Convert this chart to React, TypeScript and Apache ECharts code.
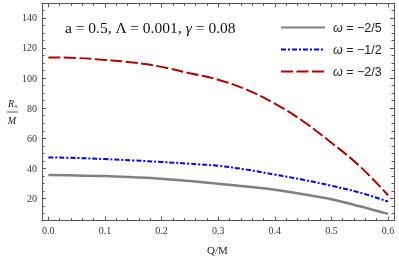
import React, { useEffect, useRef } from "react";
import * as echarts from "echarts";

const qValues = [0, 0.05, 0.1, 0.15, 0.2, 0.25, 0.3, 0.35, 0.4, 0.45, 0.5, 0.55, 0.6];
const grayValues = [35.6, 35.3, 34.9, 34.1, 33.1, 31.6, 29.8, 28.0, 25.8, 22.9, 19.6, 14.9, 9.8];
const blueValues = [47.3, 46.9, 46.2, 45.3, 44.3, 43.1, 41.7, 39.2, 35.9, 32.5, 28.5, 24.0, 18.0];
const redValues = [113.7, 113.3, 112.0, 110.3, 107.4, 103.2, 98.9, 92.3, 83.0, 71.3, 57.0, 41.5, 22.2];
const seriesNames = ["ω = −2/5", "ω = −1/2", "ω = −2/3"];

const xMajor = [0, 0.1, 0.2, 0.3, 0.4, 0.5, 0.6];
const xMinor = [0.02, 0.04, 0.06, 0.08, 0.12, 0.14, 0.16, 0.18, 0.22, 0.24, 0.26, 0.28, 0.32, 0.34, 0.36, 0.38, 0.42, 0.44, 0.46, 0.48, 0.52, 0.54, 0.56, 0.58];
const yMajor = [20, 40, 60, 80, 100, 120, 140];
const yMinor = [10, 15, 25, 30, 35, 45, 50, 55, 65, 70, 75, 85, 90, 95, 105, 110, 115, 125, 130, 135, 145];

const X_MIN = -0.0112;
const X_MAX = 0.6106;
const Y_MIN = 5.3;
const Y_MAX = 149.6;

const FRAME = "#555555";
const LABEL = "#333333";
const SERIF = "Liberation Serif, serif";
const SANS = "Liberation Sans, Arial, sans-serif";

export default function App() {
  const ref = useRef<HTMLDivElement>(null);
  useEffect(() => {
    if (!ref.current) return;
    const chart = echarts.init(ref.current, undefined, { renderer: "svg" });
    const line = { show: true, onZero: false, lineStyle: { color: FRAME, width: 1 } };
    const tickStyle = { color: FRAME, width: 1 };
    const xBase = { type: "value", min: X_MIN, max: X_MAX, axisLine: line, splitLine: { show: false } };
    const yBase = { type: "value", min: Y_MIN, max: Y_MAX, axisLine: line, splitLine: { show: false } };
    const noLabel = { show: false };
    const tick = (len: number, vals: number[]) => ({ show: true, inside: true, length: len, customValues: vals, lineStyle: tickStyle });
    const mk = (vals: number[]) => vals.map((v, i) => [qValues[i], v]);
    chart.setOption({
      animation: false,
      grid: { left: 42, right: 5, top: 3.3, bottom: 37.3 },
      xAxis: [
        {
          ...xBase,
          position: "bottom",
          axisTick: tick(4, xMajor),
          axisLabel: {
            show: true,
            customValues: xMajor,
            formatter: (v: number) => v.toFixed(1),
            fontFamily: SERIF,
            fontSize: 10,
            color: LABEL,
            margin: 5,
          },
        },
        { ...xBase, position: "bottom", axisTick: tick(2.5, xMinor), axisLabel: noLabel },
        { ...xBase, position: "top", axisTick: tick(4, xMajor), axisLabel: noLabel },
        { ...xBase, position: "top", axisTick: tick(2.5, xMinor), axisLabel: noLabel },
      ],
      yAxis: [
        {
          ...yBase,
          position: "left",
          axisTick: tick(4, yMajor),
          axisLabel: {
            show: true,
            customValues: yMajor,
            fontFamily: SERIF,
            fontSize: 10,
            color: LABEL,
            margin: 5,
          },
        },
        { ...yBase, position: "left", axisTick: tick(2.5, yMinor), axisLabel: noLabel },
        { ...yBase, position: "right", axisTick: tick(4, yMajor), axisLabel: noLabel },
        { ...yBase, position: "right", axisTick: tick(2.5, yMinor), axisLabel: noLabel },
      ],
      legend: {
        orient: "vertical",
        left: 275,
        top: 16,
        itemWidth: 44,
        itemHeight: 14,
        itemGap: 9,
        data: seriesNames,
        itemStyle: { opacity: 0 },
        formatter: (name: string) => `{w|ω}{t|${name.slice(1)}}`,
        textStyle: {
          padding: [0, 0, 0, 3],
          rich: {
            w: { fontFamily: SANS, fontSize: 12.5, lineHeight: 14, fontStyle: "italic", color: "#222" },
            t: { fontFamily: SANS, fontSize: 12.5, lineHeight: 14, color: "#222" },
          },
        },
      },
      series: [
        {
          name: seriesNames[0],
          type: "line",
          data: mk(grayValues),
          symbol: "none",
          smooth: 0.4,
          lineStyle: { color: "#808080", width: 2.5 },
          itemStyle: { color: "#808080" },
        },
        {
          name: seriesNames[1],
          type: "line",
          data: mk(blueValues),
          symbol: "none",
          smooth: 0.4,
          lineStyle: { color: "#0000ff", width: 2, type: [5, 2, 2, 2] },
          itemStyle: { color: "#0000ff" },
        },
        {
          name: seriesNames[2],
          type: "line",
          data: mk(redValues),
          symbol: "none",
          smooth: 0.4,
          lineStyle: { color: "#ad0000", width: 2, type: [12, 3.5] },
          itemStyle: { color: "#ad0000" },
        },
      ],
      graphic: [
        {
          type: "text",
          x: 65,
          y: 27.5,
          style: {
            text: "a = 0.5, Λ = 0.001, {i|γ} = 0.08",
            fontFamily: SERIF,
            fontSize: 15.5,
            fill: "#111",
            verticalAlign: "middle",
            rich: { i: { fontFamily: SERIF, fontSize: 15.5, fontStyle: "italic", fill: "#111" } },
          },
        },
        {
          type: "text",
          x: 11,
          y: 103,
          style: { text: "R", fontFamily: SERIF, fontSize: 10, fontStyle: "italic", fill: "#222", align: "center", verticalAlign: "middle" },
        },
        {
          type: "text",
          x: 15.8,
          y: 106,
          style: { text: "s", fontFamily: SERIF, fontSize: 7, fontStyle: "italic", fill: "#222", align: "center", verticalAlign: "middle" },
        },
        {
          type: "line",
          shape: { x1: 7, y1: 112, x2: 18, y2: 112 },
          style: { stroke: "#333", lineWidth: 0.8 },
        },
        {
          type: "text",
          x: 12,
          y: 120.5,
          style: { text: "M", fontFamily: SERIF, fontSize: 10, fontStyle: "italic", fill: "#222", align: "center", verticalAlign: "middle" },
        },
        {
          type: "text",
          x: 217.5,
          y: 250,
          style: { text: "Q/M", fontFamily: SERIF, fontSize: 11, fill: "#222", align: "center", verticalAlign: "middle" },
        },
      ],
    });
    return () => chart.dispose();
  }, []);
  return <div ref={ref} style={{ position: "fixed", left: 0, top: 0, width: 399, height: 258 }} />;
}
